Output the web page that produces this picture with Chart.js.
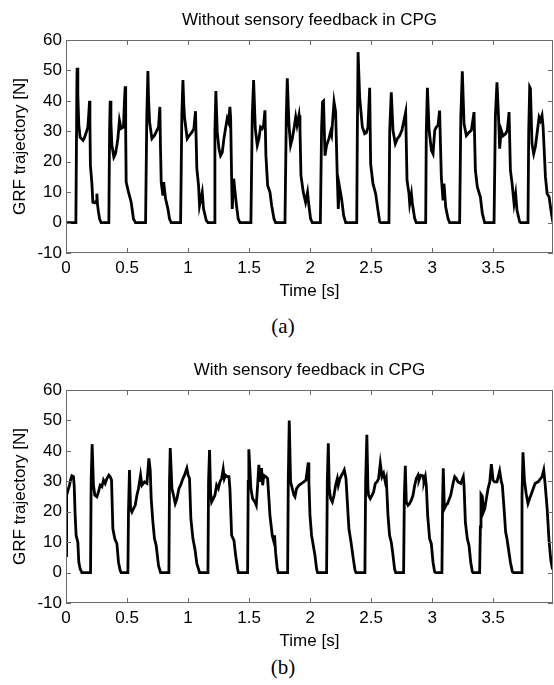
<!DOCTYPE html>
<html><head><meta charset="utf-8">
<script src="https://cdn.jsdelivr.net/npm/chart.js@4/dist/chart.umd.min.js"></script>
<style>
html,body{margin:0;padding:0;background:#fff;}
body{width:554px;height:685px;position:relative;overflow:hidden;}
.panel{position:absolute;left:0;width:554px;height:305px;}
.cap{position:absolute;left:0;width:566px;text-align:center;font-family:"Liberation Serif","Times New Roman",serif;font-size:21px;color:#000;line-height:24px;}
</style></head><body>
<div class="panel" style="top:0"><canvas id="ca" width="554" height="305"></canvas></div>
<div class="cap" style="top:314px">(a)</div>
<div class="panel" style="top:350px"><canvas id="cb" width="554" height="305"></canvas></div>
<div class="cap" style="top:655px">(b)</div>
<script>
const titleA = "Without sensory feedback in CPG";
const titleB = "With sensory feedback in CPG";
const xLabel = "Time [s]";
const yLabel = "GRF trajectory [N]";
const xTickValues = [0, 0.5, 1, 1.5, 2, 2.5, 3, 3.5];
const xTickLabels = ["0", "0.5", "1", "1.5", "2", "2.5", "3", "3.5"];
const yTickValues = [-10, 0, 10, 20, 30, 40, 50, 60];
const yTickLabels = ["-10", "0", "10", "20", "30", "40", "50", "60"];

const timeA = [0, 0.081, 0.089, 0.091, 0.097, 0.105, 0.116, 0.128, 0.14, 0.152, 0.165, 0.179, 0.187, 0.193, 0.196, 0.2, 0.212, 0.22, 0.235, 0.247, 0.253, 0.258, 0.266, 0.275, 0.288,
0.351, 0.357, 0.362, 0.368, 0.376, 0.392, 0.405, 0.417, 0.425, 0.438, 0.452, 0.471, 0.479, 0.485, 0.489, 0.493, 0.512, 0.534, 0.553, 0.57,
0.652, 0.662, 0.671, 0.677, 0.685, 0.704, 0.726, 0.739, 0.758, 0.769, 0.774, 0.78, 0.794, 0.8, 0.816, 0.835, 0.848, 0.862,
0.939, 0.949, 0.958, 0.966, 0.972, 0.993, 1.012, 1.034, 1.048, 1.061, 1.072, 1.086, 1.094, 1.116, 1.127, 1.149, 1.163,
1.215, 1.22, 1.228, 1.239, 1.253, 1.266, 1.28, 1.294, 1.307, 1.321, 1.332, 1.343, 1.349, 1.357, 1.362, 1.374, 1.388, 1.397, 1.411, 1.425,
1.515, 1.526, 1.537, 1.551, 1.567, 1.581, 1.594, 1.608, 1.619, 1.63, 1.638, 1.652, 1.671, 1.685, 1.704, 1.717,
1.794, 1.805, 1.813, 1.827, 1.84, 1.854, 1.87, 1.882, 1.893, 1.909, 1.917, 1.925, 1.944, 1.963, 1.979, 1.99, 2.004, 2.018,
2.084, 2.094, 2.102, 2.11, 2.122, 2.135, 2.154, 2.168, 2.176, 2.196, 2.209, 2.223, 2.231, 2.239, 2.258, 2.275, 2.291,
2.382, 2.387, 2.393, 2.406, 2.428, 2.447, 2.46, 2.474, 2.488, 2.496, 2.515, 2.537, 2.556, 2.57, 2.578,
2.646, 2.652, 2.665, 2.679, 2.698, 2.714, 2.733, 2.752, 2.783, 2.794, 2.81, 2.816, 2.83, 2.838, 2.857, 2.87,
2.947, 2.952, 2.961, 2.975, 2.994, 3.007, 3.021, 3.034, 3.048, 3.061, 3.075, 3.089, 3.097, 3.111, 3.13, 3.143,
3.225, 3.235, 3.247, 3.261, 3.28, 3.299, 3.321, 3.343, 3.354, 3.37, 3.395, 3.411, 3.43,
3.507, 3.518, 3.531, 3.545, 3.553, 3.566, 3.58, 3.602, 3.616, 3.63, 3.641, 3.655, 3.671, 3.684, 3.695, 3.717, 3.725,
3.785, 3.791, 3.799, 3.805, 3.818, 3.832, 3.846, 3.859, 3.876, 3.887, 3.9, 3.909, 3.928, 3.942, 3.958, 3.977, 3.99];
const forceA = [0, 0, 45, 50.9, 42, 32, 28, 27.5, 27, 28, 29.5, 31.4, 36, 40, 33, 18.8, 13, 6.7, 6.5, 7, 9.5, 6, 3.5, 1.2, 0,
0, 30, 40, 33, 25.4, 21.5, 22.6, 25.4, 27.6, 33.6, 30.9, 31.4, 40, 44.8, 30, 13.3, 10, 6.7, 1.2, 0,
0, 35, 49.8, 40, 33, 27.6, 28.7, 29.8, 31.4, 38, 25, 13.3, 8.9, 13.3, 7.8, 4.5, 1.2, 0,
0, 35, 46.8, 38, 34.2, 27.6, 28.7, 29.8, 31, 36.6, 17.7, 12.2, 5.6, 10, 4.5, 0.7, 0,
0, 30, 43.2, 29.8, 24.3, 22, 23, 27.6, 30.9, 34.2, 33, 38, 34.2, 14.4, 4.5, 14.4, 8.9, 5.6, 1.2, 0,
0, 35, 46.8, 30.9, 25.4, 27.6, 31.4, 30.9, 32, 36.9, 22, 12.2, 10, 5.6, 1.2, 0,
0, 35, 47.4, 32, 25.4, 27.6, 31.4, 34.7, 32, 35.3, 30.9, 15.5, 10, 6.7, 10, 5.6, 1.2, 0,
0, 30.9, 39.7, 40, 22, 25.4, 27.6, 29.8, 28.7, 39.7, 36.4, 14.4, 4.5, 12.2, 7.8, 2.3, 0,
0, 30, 56, 41.2, 31.4, 29.2, 29.5, 31.4, 44.3, 19.3, 12.8, 9.5, 4, 0.2, 0,
0, 30, 42.8, 30.3, 25.9, 27.5, 28.5, 30.3, 36.3, 13.9, 9.5, 6.2, 9.5, 6.2, 1.3, 0,
0, 30, 44.3, 30.3, 23.7, 22.6, 30.3, 31.4, 31.9, 36.8, 15, 7.3, 12.8, 5.1, 1.3, 0,
0, 35, 49.7, 32.5, 28.6, 29.5, 30.3, 36.3, 17.2, 11.7, 8.4, 3, 0,
0, 35, 46.1, 33.6, 24.3, 30.3, 28.5, 29.2, 30.3, 36.3, 17.2, 12.8, 6.2, 9.5, 4, 0.2, 0,
0, 30, 44.5, 44, 25.9, 22.6, 25, 29.2, 34.6, 33.5, 35.2, 31.4, 15, 9.5, 8.5, 3, 0];

const timeB = [0, 0.003, 0.007, 0.02, 0.029, 0.037, 0.048, 0.061, 0.067, 0.075, 0.083, 0.097, 0.105, 0.116, 0.13,
0.201, 0.206, 0.214, 0.225, 0.236, 0.253, 0.266, 0.28, 0.294, 0.307, 0.321, 0.335, 0.351, 0.362, 0.373, 0.384, 0.4, 0.417, 0.43, 0.444, 0.452,
0.507, 0.512, 0.52, 0.529, 0.54, 0.553, 0.567, 0.581, 0.594, 0.611, 0.622, 0.643, 0.663, 0.679, 0.69, 0.698, 0.712, 0.725, 0.739, 0.758, 0.775,
0.843, 0.848, 0.854, 0.868, 0.881, 0.895, 0.909, 0.925, 0.939, 0.958, 0.971, 0.99, 1.001, 1.012, 1.023, 1.04, 1.056, 1.072, 1.089, 1.094,
1.163, 1.168, 1.176, 1.185, 1.193, 1.207, 1.22, 1.234, 1.248, 1.261, 1.275, 1.288, 1.297, 1.307, 1.321, 1.335, 1.343, 1.357, 1.376, 1.39, 1.406, 1.412,
1.488, 1.493, 1.498, 1.515, 1.529, 1.548, 1.559, 1.57, 1.58, 1.589, 1.602, 1.611, 1.621, 1.638, 1.652, 1.671, 1.69, 1.704, 1.709, 1.717, 1.731, 1.739,
1.816, 1.821, 1.829, 1.84, 1.854, 1.868, 1.876, 1.889, 1.909, 1.93, 1.949, 1.966, 1.985, 1.99, 1.999, 2.012, 2.026, 2.04, 2.053, 2.061,
2.135, 2.141, 2.149, 2.157, 2.168, 2.182, 2.196, 2.209, 2.223, 2.231, 2.245, 2.258, 2.272, 2.28, 2.294, 2.305, 2.318, 2.335, 2.354, 2.368, 2.376,
2.449, 2.455, 2.465, 2.474, 2.479, 2.493, 2.507, 2.52, 2.534, 2.548, 2.561, 2.575, 2.589, 2.602, 2.616, 2.624, 2.638, 2.651, 2.665, 2.676, 2.692, 2.701,
2.766, 2.772, 2.78, 2.788, 2.802, 2.816, 2.829, 2.843, 2.857, 2.87, 2.884, 2.892, 2.906, 2.925, 2.933, 2.944, 2.952, 2.963, 2.979, 2.993, 3.007, 3.02, 3.029,
3.08, 3.086, 3.091, 3.1, 3.113, 3.127, 3.141, 3.152, 3.163, 3.174, 3.185, 3.198, 3.212, 3.234, 3.255, 3.261, 3.272, 3.288, 3.302, 3.316, 3.329, 3.335,
3.389, 3.395, 3.4, 3.411, 3.42, 3.431, 3.444, 3.458, 3.472, 3.485, 3.499, 3.512, 3.531, 3.553, 3.567, 3.575, 3.589, 3.602, 3.613, 3.621, 3.641, 3.657, 3.666,
3.731, 3.736, 3.744, 3.756, 3.77, 3.785, 3.8, 3.814, 3.843, 3.87, 3.9, 3.914, 3.925, 3.943, 3.957, 3.972, 3.986];
const forceB = [5.6, 18, 25.4, 27.6, 28.7, 30.4, 31.8, 31.5, 28.7, 18.8, 12.2, 10, 3.4, 1.2, 0,
0, 30, 42.2, 28.7, 25.4, 24.9, 26.5, 28.7, 28.2, 30.4, 29.3, 30.9, 32, 31.5, 30.4, 14.4, 11.1, 9.5, 3.4, 0.7, 0,
0, 20, 33.7, 21, 19.9, 21, 22.1, 25.4, 27.6, 32, 28.7, 29.8, 29.3, 37.5, 33.7, 24.3, 16.6, 11.1, 8.9, 2.3, 0,
0, 30, 40.9, 27.6, 25.4, 22.7, 24.3, 27.6, 28.7, 30.9, 32, 34.3, 32, 30.9, 17.7, 11.1, 7.8, 2.9, 0.7, 0,
0, 30, 40.3, 26, 23.2, 24.3, 25.4, 28.7, 27.6, 29.8, 30.9, 34, 30.9, 32, 31.5, 31.5, 27.6, 12.2, 10.6, 5.6, 1.2, 0,
0, 30, 40.5, 27.6, 24.3, 23.2, 22.1, 28.7, 35.4, 29.8, 34.3, 28.7, 32, 31.5, 30.9, 18.8, 12.2, 10, 12.2, 6.7, 1.2, 0,
0, 30, 50, 29.8, 27.6, 25.4, 24.9, 27.6, 28.7, 29.3, 29.8, 30.4, 36.2, 29.8, 18.8, 12.2, 8.9, 5.6, 1.2, 0,
0, 30, 42.5, 27.6, 24.3, 23.2, 25.4, 28.7, 30.9, 28.7, 30.9, 32, 33, 33.7, 30.9, 23.2, 14.4, 10, 4.5, 0.7, 0,
0, 30, 45.3, 27.6, 25.4, 24.3, 25.4, 26.5, 29.3, 29.8, 30.9, 35.9, 31.5, 32.6, 29.8, 30.9, 18.8, 12.2, 10, 6.7, 1.2, 0,
0, 25, 35.1, 23.2, 22.1, 22.7, 23.8, 25.4, 28.7, 30.9, 32, 30.4, 32, 31.8, 29.8, 31.5, 28.7, 18.8, 11.1, 9.5, 3.4, 0.3, 0,
0, 25, 34.3, 21, 22.1, 22.7, 24.3, 25.4, 27.6, 29.8, 31.5, 30.9, 29.8, 29.3, 31.5, 28.7, 16.6, 11.1, 8.9, 3.4, 0.3, 0,
0, 15, 25.7, 25, 19.9, 21, 24.3, 27.6, 29.8, 35.6, 30.4, 29.8, 29.8, 33.4, 29.8, 28.7, 21, 13.3, 11.1, 8.9, 3.4, 0.3, 0,
0, 25, 39.5, 30.4, 26, 22.7, 24.5, 26, 29.3, 29.9, 31.5, 33.7, 29.3, 20.5, 10.7, 4.1, 1];

const FONT = "'Liberation Sans', Arial, Helvetica, sans-serif";

const boxPlugin = {
  id: 'matlabBox',
  afterDatasetsDraw(chart) {
    const {ctx, chartArea: a, scales: {x, y}} = chart;
    const L = 5;
    ctx.save();
    ctx.strokeStyle = '#6a6a6a';
    ctx.lineWidth = 1;
    ctx.beginPath();
    x.ticks.forEach(t => {
      const px = Math.round(x.getPixelForValue(t.value)) + 0.5;
      ctx.moveTo(px, a.bottom); ctx.lineTo(px, a.bottom - L);
      ctx.moveTo(px, a.top); ctx.lineTo(px, a.top + L);
    });
    y.ticks.forEach(t => {
      const py = Math.round(y.getPixelForValue(t.value)) + 0.5;
      ctx.moveTo(a.left, py); ctx.lineTo(a.left + L, py);
      ctx.moveTo(a.right, py); ctx.lineTo(a.right - L, py);
    });
    ctx.stroke();
    ctx.strokeRect(Math.round(a.left) + 0.5, Math.round(a.top) + 0.5,
      Math.round(a.right - a.left) - 1, Math.round(a.bottom - a.top) - 1);
    ctx.restore();
  }
};

function makeChart(id, title, times, forces) {
  const pts = times.map((t, i) => ({x: t, y: forces[i]}));
  return new Chart(document.getElementById(id), {
    type: 'line',
    data: { datasets: [{ data: pts, borderColor: '#000', borderWidth: 2.8, pointRadius: 0, tension: 0, fill: false, borderJoinStyle: 'miter' }] },
    plugins: [boxPlugin],
    options: {
      responsive: false, animation: false, devicePixelRatio: 1,
      layout: { padding: { top: 0, right: 1, bottom: 0, left: 0 } },
      plugins: {
        legend: { display: false }, tooltip: { enabled: false },
        title: { display: true, fullSize: false, text: title, color: '#000',
          font: { family: FONT, size: 17, weight: 'normal', lineHeight: '20px' },
          padding: { top: 10, bottom: 10 } }
      },
      scales: {
        x: {
          type: 'linear', min: 0, max: 3.99,
          afterBuildTicks: s => { s.ticks = xTickValues.map(v => ({value: v})); },
          afterFit: s => { s.height = 52; },
          grid: { display: false, drawTicks: false },
          border: { display: false },
          ticks: { color: '#000', padding: 5, maxRotation: 0, autoSkip: false,
            callback: (v, i) => xTickLabels[xTickValues.indexOf(v)],
            font: { family: FONT, size: 17 } },
          title: { display: true, text: xLabel, color: '#000',
            font: { family: FONT, size: 17, lineHeight: '20px' }, padding: { top: 0, bottom: 4 } }
        },
        y: {
          type: 'linear', min: -10, max: 60,
          afterBuildTicks: s => { s.ticks = yTickValues.map(v => ({value: v})); },
          afterFit: s => { s.width = 66; },
          grid: { display: false, drawTicks: false },
          border: { display: false },
          ticks: { color: '#000', padding: 4, autoSkip: false,
            callback: (v, i) => yTickLabels[yTickValues.indexOf(v)],
            font: { family: FONT, size: 17 } },
          title: { display: true, text: yLabel, color: '#000',
            font: { family: FONT, size: 17, lineHeight: '20px' }, padding: { top: 10, bottom: 0 } }
        }
      }
    }
  });
}
makeChart('ca', titleA, timeA, forceA);
makeChart('cb', titleB, timeB, forceB);
</script>
</body></html>
